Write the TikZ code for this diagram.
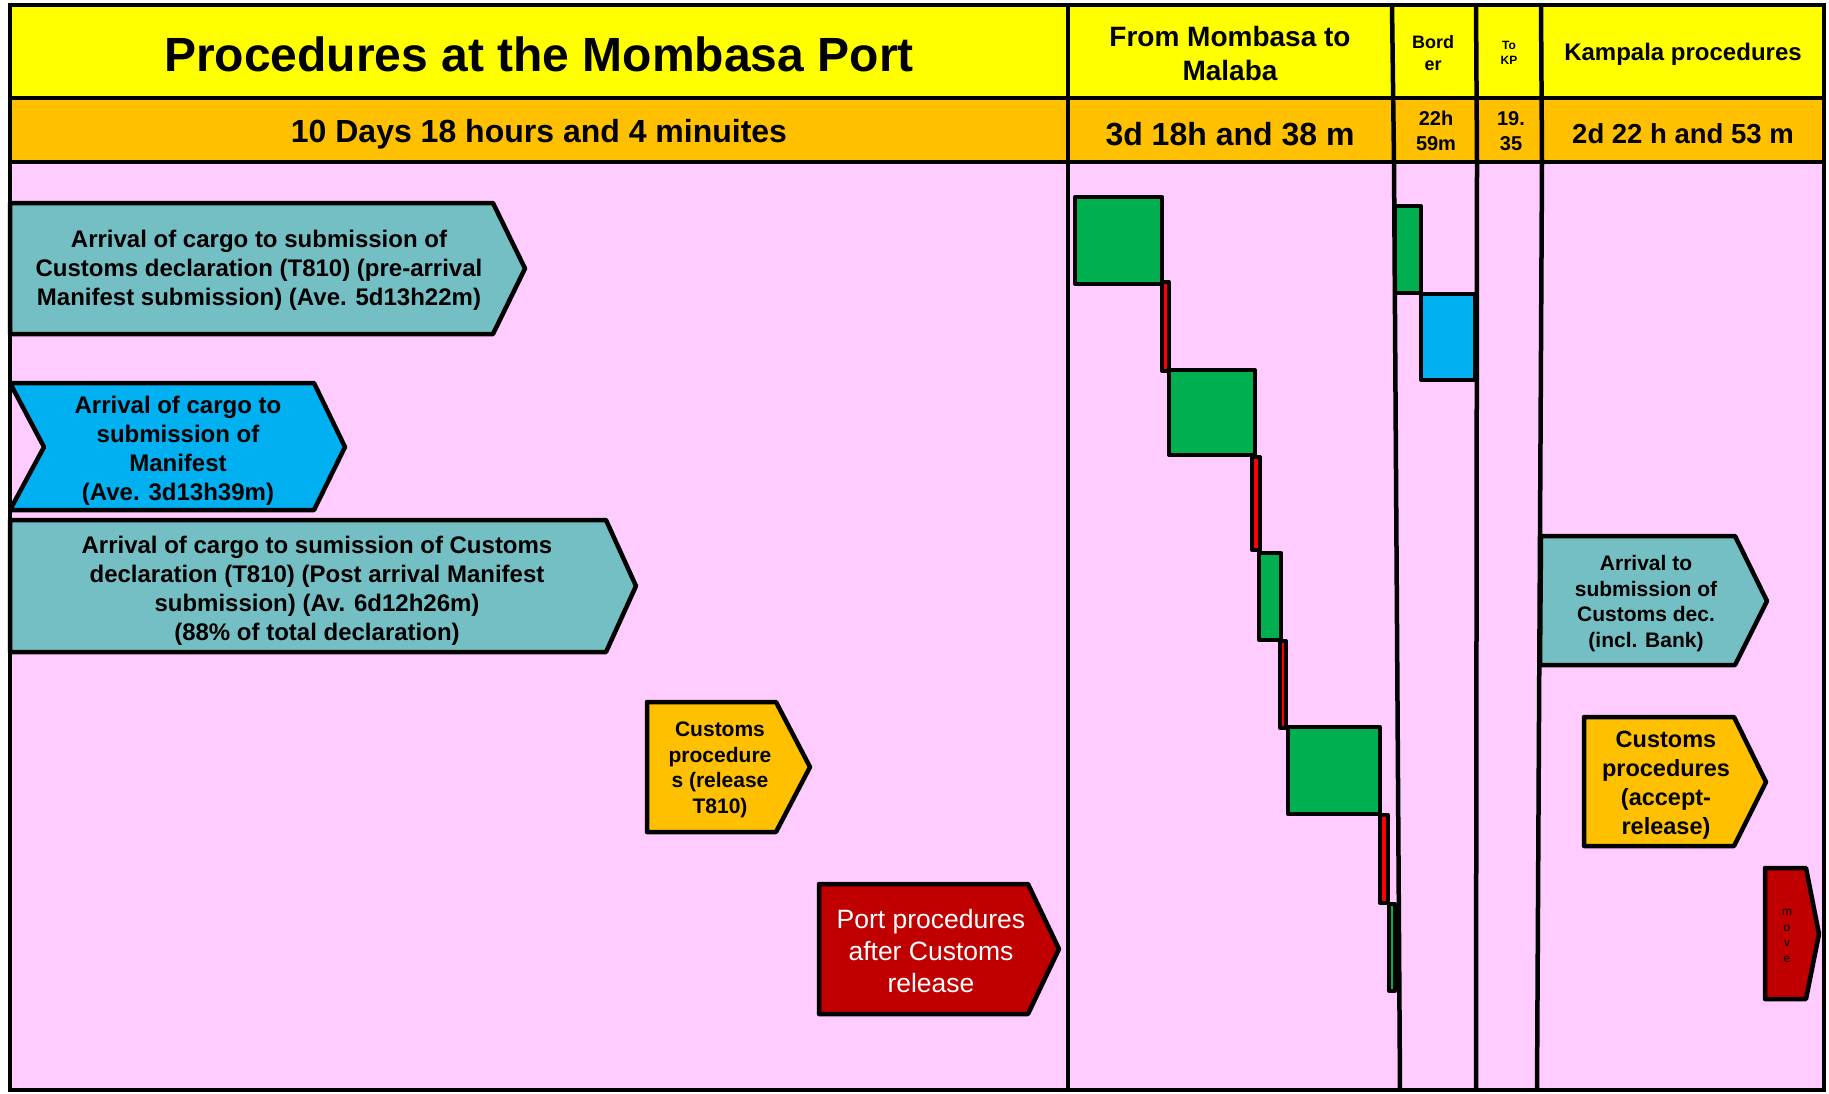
\documentclass[tikz,border=0pt]{standalone}
\usepackage{fontspec}
\setmainfont{Liberation Sans}
\definecolor{headyellow}{RGB}{255,255,0}
\definecolor{headorange}{RGB}{255,192,0}
\definecolor{bodypink}{RGB}{255,204,255}
\definecolor{stageteal}{RGB}{116,191,196}
\definecolor{stageblue}{RGB}{0,176,240}
\definecolor{stagered}{RGB}{192,0,0}
\definecolor{bargreen}{RGB}{0,176,80}
\tikzset{
  gridline/.style={black, line width=4.5pt},
  stage/.style={draw=black, line width=4.5pt, line join=round},
  bar/.style={draw=black, line width=4pt, line join=round},
  every node/.style={inner sep=0pt, align=center},
  titletext/.style={font=\fontsize{48}{58}\selectfont\bfseries},
  headtext/.style={font=\fontsize{28}{34}\selectfont\bfseries},
  timetext/.style={font=\fontsize{32}{38}\selectfont\bfseries},
  stagetext/.style={font=\fontsize{24}{29}\selectfont\bfseries},
  smalltext/.style={font=\fontsize{21}{25.5}\selectfont\bfseries}
}
\begin{document}
\begin{tikzpicture}[x=1pt,y=-1pt]
  \useasboundingbox (0,0) rectangle (1829,1093);
  \fill [white] (0,0) rectangle (1829,1093);
  \fill [headyellow] (10,5) rectangle (1824,98);
  \fill [headorange] (10,98) rectangle (1824,162);
  \fill [bodypink] (10,162) rectangle (1824,1090);
  \node [titletext] (porthead) at (539,54) {Procedures at the Mombasa Port};
  \node [headtext] (roadhead) at (1230,53) {From Mombasa to\\Malaba};
  \node [font=\fontsize{18}{22}\selectfont\bfseries] (borderhead) at (1433,53) {Bord\\er};
  \node [font=\fontsize{12}{15}\selectfont\bfseries] (tokphead) at (1509,53) {To\\KP};
  \node [font=\fontsize{24}{29}\selectfont\bfseries] (klahead) at (1683,54) {Kampala procedures};
  \node [timetext] (porttime) at (539,134) {10 Days 18 hours and 4 minuites};
  \node [timetext] (roadtime) at (1230,134) {3d 18h and 38 m};
  \node [font=\fontsize{20}{25}\selectfont\bfseries] (bordertime) at (1436,131) {22h\\59m};
  \node [font=\fontsize{20}{25}\selectfont\bfseries] (tokptime) at (1511,131) {19.\\35};
  \node [font=\fontsize{27.5}{33}\selectfont\bfseries] (klatime) at (1683,134) {2d 22 h and 53 m};
  \draw [stage, fill=stageteal] (10,203) -- (493,203) -- (525,268.5) -- (493,334) -- (10,334) -- cycle;
  \node [stagetext] (predecl) at (259,270.5) {Arrival of cargo to submission of\\Customs declaration (T810) (pre-arrival\\Manifest submission) (Ave. 5d13h22m)};
  \draw [stage, fill=stageblue] (10,383) -- (314,383) -- (345,447) -- (314,510) -- (10,510) -- (44,447) -- cycle;
  \node [stagetext] (manifest) at (178,450.5) {Arrival of cargo to\\submission of\\Manifest\\(Ave. 3d13h39m)};
  \draw [stage, fill=stageteal] (10,520) -- (606,520) -- (636,586) -- (606,652) -- (10,652) -- cycle;
  \node [stagetext] (postdecl) at (317,590.5) {Arrival of cargo to sumission of Customs\\declaration (T810) (Post arrival Manifest\\submission) (Av. 6d12h26m)\\(88\% of total declaration)};
  \draw [stage, fill=headorange] (647,702) -- (776,702) -- (810,767) -- (776,832) -- (647,832) -- cycle;
  \node [smalltext] (release) at (720,770) {Customs\\procedure\\s (release\\T810)};
  \draw [stage, fill=stagered] (819,884) -- (1028,884) -- (1059,949) -- (1028,1014) -- (819,1014) -- cycle;
  \node [font=\fontsize{26.5}{32}\selectfont, white] (portafter) at (931,951) {Port procedures\\after Customs\\release};
  \draw [stage, fill=stageteal] (1541,536) -- (1735,536) -- (1767,601) -- (1735,665) -- (1540,665) -- cycle;
  \node [smalltext] (kladecl) at (1646,603.5) {Arrival to\\submission of\\Customs dec.\\(incl. Bank)};
  \draw [stage, fill=headorange] (1584,717) -- (1734,717) -- (1766,782) -- (1734,846) -- (1584,846) -- cycle;
  \node [font=\fontsize{23.5}{29}\selectfont\bfseries] (klarelease) at (1666,785.5) {Customs\\procedures\\(accept-\\release)};
  \draw [stage, fill=stagered] (1765,868) -- (1806,868) -- (1819,934) -- (1806,999) -- (1765,999) -- cycle;
  \node [font=\fontsize{12}{15.5}\selectfont] (move) at (1787,936) {m\\o\\v\\e};
  \draw [bar, fill=bargreen] (1075,197) rectangle (1162,284);
  \draw [bar, fill=red] (1162,282) rectangle (1169,371);
  \draw [bar, fill=bargreen] (1169,370) rectangle (1255,455);
  \draw [bar, fill=red] (1252,457) rectangle (1260,550);
  \draw [bar, fill=bargreen] (1259,553) rectangle (1281,640);
  \draw [bar, fill=red] (1280,641) rectangle (1286,728);
  \draw [bar, fill=bargreen] (1288,727) rectangle (1380,814);
  \draw [bar, fill=red] (1380,815) rectangle (1388,903);
  \draw [bar, fill=bargreen] (1389,904) rectangle (1395,991);
  \draw [bar, fill=bargreen] (1395,206) rectangle (1421,293);
  \draw [bar, fill=stageblue] (1421,294) rectangle (1475,380);
  \draw [gridline] (10,98) -- (1824,98);
  \draw [gridline] (10,162) -- (1824,162);
  \draw [gridline] (1068,5) -- (1068,1090);
  \draw [gridline] (1392,5) -- (1394,162) -- (1400,1090);
  \draw [gridline] (1476,5) -- (1477,162) -- (1476,1090);
  \draw [gridline] (1541,5) -- (1542,162) -- (1537,1090);
  \draw [gridline] (10,5) rectangle (1824,1090);
\end{tikzpicture}
\end{document}
